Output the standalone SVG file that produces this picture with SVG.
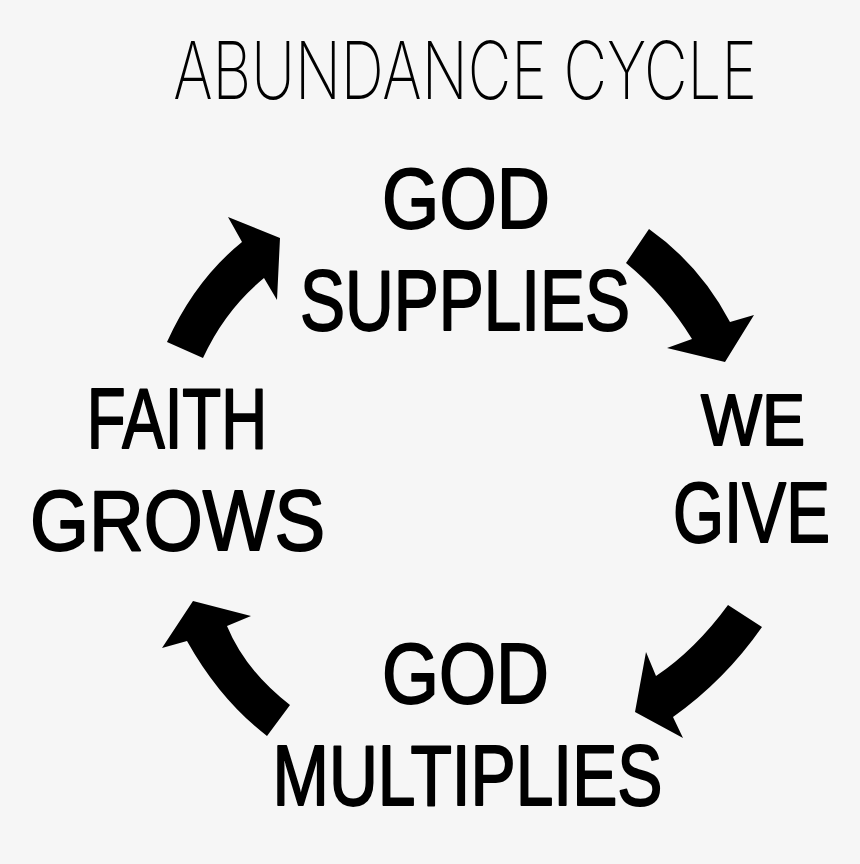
<svg xmlns="http://www.w3.org/2000/svg" width="860" height="864" viewBox="0 0 860 864">
  <style>
    .lbl { font-family: "Liberation Sans", Arial, sans-serif; font-weight: normal; font-size: 86px; fill: #000; stroke: #000; stroke-width: 2; stroke-linejoin: round; text-anchor: middle; }
    .title { font-family: Inter, "Noto Sans", "Open Sans", sans-serif; font-weight: 200; font-size: 80px; fill: #000; text-anchor: middle; }
    .arrow { fill: #000; stroke: none; }
  </style>
  <rect width="860" height="864" fill="#f6f6f6"/>
  <g id="title">
    <text class="title" transform="translate(465,99) scale(0.75,1)">ABUNDANCE CYCLE</text>
  </g>
  <g id="god-supplies">
    <text class="lbl" transform="translate(466,228) scale(0.857,1)">GOD</text>
    <text class="lbl" transform="translate(465,330) scale(0.785,1)">SUPPLIES</text>
  </g>
  <g id="we-give">
    <text class="lbl" transform="translate(753,445) scale(0.897,1)" style="font-size:72px">WE</text>
    <text class="lbl" transform="translate(751.5,542) scale(0.764,1)">GIVE</text>
  </g>
  <g id="god-multiplies">
    <text class="lbl" transform="translate(465.5,703) scale(0.852,1)">GOD</text>
    <text class="lbl" transform="translate(467.5,805) scale(0.787,1)">MULTIPLIES</text>
  </g>
  <g id="faith-grows">
    <text class="lbl" transform="translate(177,448) scale(0.74,1)">FAITH</text>
    <text class="lbl" transform="translate(177.5,550) scale(0.882,1)">GROWS</text>
  </g>
  <g id="connectors">
    <path class="arrow" d="M167,342 Q195,280 242,242 L228,217 L280,238 L277,300 L264,278 Q225,310 203,358 Z"/>
    <path class="arrow" d="M649,229 Q700,265 730,322 L754,315 L725,362 L667,348 L692,339 Q665,295 626,263 Z"/>
    <path class="arrow" d="M728,605 Q695,650 656,676 L646,652 L635,712 L683,738 L673,717 Q725,680 762,627 Z"/>
    <path class="arrow" d="M290,705 Q245,670 227,626 L251,616 L193,601 L162,648 L187,641 Q220,700 267,736 Z"/>
  </g>
</svg>
